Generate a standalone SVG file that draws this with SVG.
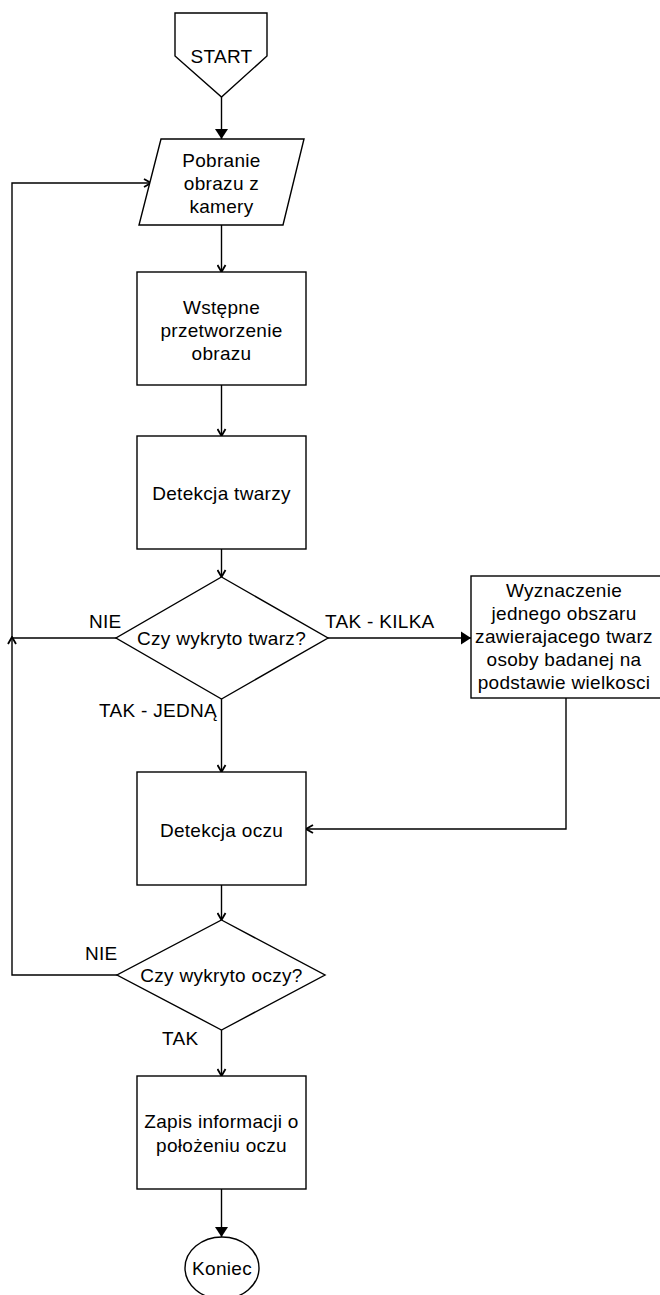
<svg xmlns="http://www.w3.org/2000/svg" width="660" height="1295" viewBox="0 0 660 1295">
<style>
.s{fill:#fff;stroke:#000;stroke-width:1.4}
.t{font-family:"Liberation Sans",Arial,sans-serif;font-size:19px;fill:#000;text-anchor:middle;letter-spacing:0.3px}
.l{font-family:"Liberation Sans",Arial,sans-serif;font-size:19px;fill:#000;letter-spacing:0.3px}
.c{fill:none;stroke:#000;stroke-width:1.4}
</style>
<defs>
<marker id="af" markerUnits="userSpaceOnUse" markerWidth="11" markerHeight="14" viewBox="0 0 11 14" refX="10" refY="7" orient="auto">
<path d="M0,0.5 L10,7 L0,13.5 z" fill="#000"/>
</marker>
<marker id="ao" markerUnits="userSpaceOnUse" markerWidth="9" markerHeight="10" viewBox="0 0 9 10" refX="8" refY="5" orient="auto">
<path d="M1,1 L8,5 L1,9" fill="none" stroke="#000" stroke-width="1.8"/>
</marker>
</defs>
<rect width="660" height="1295" fill="#fff"/>
<g id="connectors">
<path class="c" d="M221.5,97 V139" marker-end="url(#af)"/>
<path class="c" d="M221.5,225 V272" marker-end="url(#ao)"/>
<path class="c" d="M221.5,385 V436" marker-end="url(#ao)"/>
<path class="c" d="M221.5,549 V577" marker-end="url(#ao)"/>
<path class="c" d="M328,638 H471" marker-end="url(#af)"/>
<path class="c" d="M221.5,699 V772" marker-end="url(#ao)"/>
<path class="c" d="M566,698 V829 H306" marker-end="url(#ao)"/>
<path class="c" d="M116,638 H12 V637" marker-end="url(#ao)"/>
<path class="c" d="M221.5,885 V920" marker-end="url(#ao)"/>
<path class="c" d="M117,975 H12 V183 H151" marker-end="url(#ao)"/>
<path class="c" d="M221.5,1030 V1076" marker-end="url(#ao)"/>
<path class="c" d="M221.5,1189 V1237" marker-end="url(#af)"/>
<text class="l" x="89" y="628">NIE</text>
<text class="l" x="325" y="628">TAK - KILKA</text>
<text class="l" x="217" y="717" text-anchor="end" style="text-anchor:end">TAK - JEDNĄ</text>
<text class="l" x="85" y="960">NIE</text>
<text class="l" x="162" y="1045">TAK</text>
</g>
<g id="start">
<path class="s" d="M175,13 H267 V56 L221.5,97 L175,56 Z"/>
<text class="t" x="221.5" y="63">START</text>
</g>
<g id="pobranie">
<path class="s" d="M161,139 H304 L283,225 H139 Z"/>
<text class="t" x="221.5" y="167">Pobranie</text>
<text class="t" x="221.5" y="190">obrazu z</text>
<text class="t" x="221.5" y="213">kamery</text>
</g>
<g id="wstepne">
<rect class="s" x="137" y="272" width="169" height="113"/>
<text class="t" x="221.5" y="314">Wstępne</text>
<text class="t" x="221.5" y="337">przetworzenie</text>
<text class="t" x="221.5" y="360">obrazu</text>
</g>
<g id="detekcja-twarzy">
<rect class="s" x="137" y="436" width="169" height="113"/>
<text class="t" x="221.5" y="500">Detekcja twarzy</text>
</g>
<g id="czy-twarz">
<path class="s" d="M221.5,577 L328,638 L221.5,699 L116,638 Z"/>
<text class="t" x="221.5" y="645">Czy wykryto twarz?</text>
</g>
<g id="wyznaczenie">
<rect class="s" x="471" y="576" width="195" height="122"/>
<text class="t" x="564" y="597">Wyznaczenie</text>
<text class="t" x="564" y="620">jednego obszaru</text>
<text class="t" x="564" y="643">zawierajacego twarz</text>
<text class="t" x="564" y="666">osoby badanej na</text>
<text class="t" x="564" y="689">podstawie wielkosci</text>
</g>
<g id="detekcja-oczu">
<rect class="s" x="137" y="772" width="169" height="113"/>
<text class="t" x="221.5" y="837">Detekcja oczu</text>
</g>
<g id="czy-oczy">
<path class="s" d="M221.5,920 L325,975 L221.5,1030 L117,975 Z"/>
<text class="t" x="221.5" y="982">Czy wykryto oczy?</text>
</g>
<g id="zapis">
<rect class="s" x="137" y="1076" width="169" height="113"/>
<text class="t" x="221.5" y="1128">Zapis informacji o</text>
<text class="t" x="221.5" y="1152">położeniu oczu</text>
</g>
<g id="koniec">
<ellipse class="s" cx="222" cy="1268" rx="37" ry="31"/>
<text class="t" x="222" y="1275">Koniec</text>
</g>
</svg>
